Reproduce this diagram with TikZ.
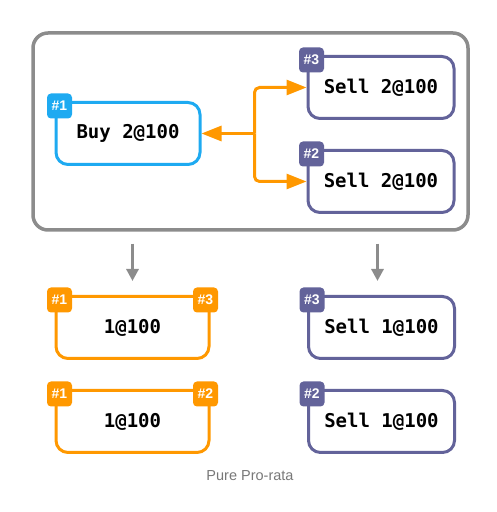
\documentclass[tikz,border=0pt]{standalone}
\usepackage{fontspec}
\setsansfont{Liberation Sans}
\newfontfamily\codefont{DejaVu Sans Mono}
\usetikzlibrary{positioning, arrows.meta}
\definecolor{buyblue}{RGB}{30,170,241}
\definecolor{fillorange}{RGB}{255,152,0}
\definecolor{sellpurple}{RGB}{99,99,154}
\definecolor{framegrey}{RGB}{140,140,140}
\definecolor{captiongrey}{RGB}{120,120,120}
\tikzset{
	order/.style={
	rectangle, rounded corners=12pt, line width=3pt, fill=white,
	minimum width=#1, minimum height=62pt, inner sep=0pt,
	font=\codefont\bfseries\fontsize{19}{22}\selectfont
	},
	order/.default=146pt,
	buy/.style={order=144pt, draw=buyblue},
	sell/.style={order, draw=sellpurple},
	matched/.style={order=153pt, draw=fillorange},
	tag/.style={rectangle, rounded corners=4pt, minimum size=25pt, inner sep=0pt,
	fill=#1, text=white, font=\sffamily\bfseries\fontsize{14}{14}\selectfont},
}

\begin{document}
\begin{tikzpicture}[x=1pt, y=1pt, node distance=29pt and 0pt]
			\tikzstyle{book}=[rectangle, rounded corners=15pt, draw=framegrey, line width=3.5pt, minimum width=435pt, minimum height=197pt]
			\tikzstyle{flow}=[line width=3pt, fillorange, -{Triangle[length=20pt,width=15pt]}, rounded corners=5pt]
			\tikzstyle{down}=[line width=3pt, framegrey, -{Triangle[length=12pt,width=12pt]}]
			\useasboundingbox (0,0) rectangle (496,512);

			\node[book] (orderbook) at (250.5,380.5) {};
			\node[buy] (buy1) at (128,378.5) {Buy 2@100};
			\node[sell] (sell3) at (381,424.5) {Sell 2@100};
			\node[sell, below=of sell3] (sell2) {Sell 2@100};
			\node[tag=buyblue] (t1) at ([shift={(5pt,-5pt)}]buy1.north west) {\#1};
			\node[tag=sellpurple] (t3) at ([shift={(5pt,-5pt)}]sell3.north west) {\#3};
			\node[tag=sellpurple] (t2) at ([shift={(5pt,-5pt)}]sell2.north west) {\#2};

			\coordinate[right=53pt of buy1.east] (split);
			\draw[flow] (split) -- (buy1.east);
			\draw[flow] (split) |- (sell3.west);
			\draw[flow] (split) |- (sell2.west);

			\node[matched] (fill3) at (132.5,184.5) {1@100};
			\node[matched, below=of fill3] (fill2) {1@100};
			\node[sell] (rest3) at (381.5,184.5) {Sell 1@100};
			\node[sell, below=of rest3] (rest2) {Sell 1@100};
			\node[tag=fillorange] (f1a) at ([shift={(5pt,-5pt)}]fill3.north west) {\#1};
			\node[tag=fillorange] (f3) at ([shift={(-5pt,-5pt)}]fill3.north east) {\#3};
			\node[tag=fillorange] (f1b) at ([shift={(5pt,-5pt)}]fill2.north west) {\#1};
			\node[tag=fillorange] (f2) at ([shift={(-5pt,-5pt)}]fill2.north east) {\#2};
			\node[tag=sellpurple] (r3) at ([shift={(5pt,-5pt)}]rest3.north west) {\#3};
			\node[tag=sellpurple] (r2) at ([shift={(5pt,-5pt)}]rest2.north west) {\#2};

			\draw[down] ([yshift=-12pt]orderbook.south -| fill3.north) -- ([yshift=14pt]fill3.north);
			\draw[down] ([xshift=-4pt,yshift=-12pt]orderbook.south -| rest3.north) -- ([xshift=-4pt,yshift=14pt]rest3.north);

			\node[font=\sffamily\fontsize{14.5}{14.5}\selectfont, text=captiongrey, anchor=base] (caption) at (250,31) {Pure Pro-rata};
		\end{tikzpicture}
\end{document}
